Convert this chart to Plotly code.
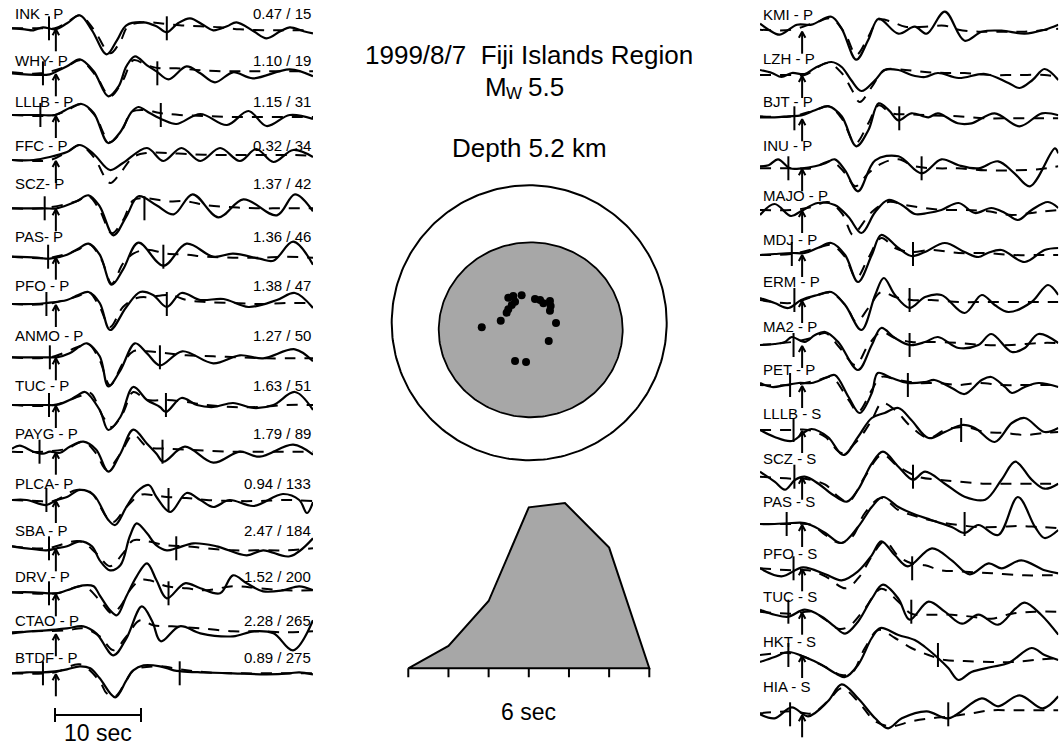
import numpy as np
import plotly.graph_objects as go

W, H = 1063, 747
FONT = "Liberation Sans, Arial, Helvetica, sans-serif"

# ------------------------------------------------------------------ data
left_labels = ["INK - P", "WHY- P", "LLLB - P", "FFC - P", "SCZ- P", "PAS- P", "PFO - P",
               "ANMO - P", "TUC - P", "PAYG - P", "PLCA- P", "SBA - P", "DRV - P",
               "CTAO - P", "BTDF - P"]
left_amp = [0.47, 1.10, 1.15, 0.32, 1.37, 1.36, 1.38, 1.27, 1.63, 1.79, 0.94, 2.47, 1.52, 2.28, 0.89]
left_az = [15, 19, 31, 34, 42, 46, 47, 50, 51, 89, 133, 184, 200, 265, 275]

right_labels = ["KMI - P", "LZH - P", "BJT - P", "INU - P", "MAJO - P", "MDJ - P", "ERM - P",
                "MA2 - P", "PET - P", "LLLB - S", "SCZ - S", "PAS - S", "PFO - S", "TUC - S",
                "HKT - S", "HIA - S"]
right_amp = [0.43, 0.30, 1.12, 0.90, 0.82, 1.31, 1.65, 0.97, 1.14, 0.23, 0.40, 0.43, 0.41, 0.50, 0.47, 0.23]
right_az = [296, 307, 315, 321, 323, 324, 329, 344, 345, 31, 42, 46, 47, 51, 59, 324]

# waveforms: time (s) and amplitude; o = observed (solid), s = synthetic (dashed)
ink_ot = [0, 1.5, 2.5, 3.6, 5, 6.4, 7.9, 9.3, 11, 12.2, 13.3, 15.3, 16.8, 18, 19.3, 20.7, 22.3, 23.4, 25, 26.1, 28.1, 29.6, 31.2, 32.3, 33.9, 35]
ink_oa = [0, -1, -2, 1, -1, 5, 13, -2, -26, -12, 3, 6, 2, -4, 5, 10, 3, -2, 2, 6, -3, -10, -3, 1, -3, -5]
ink_st = [0, 3.3, 5, 6.4, 7.9, 9.5, 11.4, 12.6, 13.5, 15.3, 17.2, 19.5, 21.9, 24.2, 26.5, 29.6, 32.3, 35]
ink_sa = [0, 0, 0, 6, 13, -1, -25, -13, 2, 6, 5, 3, 2, 1, -1, -2, -2, -2]

why_ot = [0, 4.4, 5.2, 6.4, 7.9, 9.5, 11.2, 12.4, 13.3, 14.3, 15.7, 16.8, 18.2, 20.3, 21.9, 23.6, 25.7, 28, 32.3, 35]
why_oa = [0, -1, 2, 7, 14, 2, -23, -13, 7, 17, 8, 2, -6, 7, 0, -9, 1, -5, 4, -3]
why_st = [0, 3.3, 6.4, 7.9, 9.8, 11.4, 12.9, 14.1, 15.7, 17.2, 19.1, 21.9, 25, 28, 31.2, 35]
why_sa = [1, 0, 7, 13, -3, -23, -7, 13, 8, 5, 5, 3, 2, 2, 2, 2]

lllb_ot = [0, 3.3, 5, 6.7, 8.1, 9.5, 11.2, 12.6, 13.9, 14.7, 16, 17.6, 19.1, 21.9, 25, 27.5, 29.6, 32.3, 35]
lllb_oa = [0, 0, 0, 7, 11, 2, -28, -17, 3, 8, 2, -5, -9, 1, -10, 4, -11, 0, -4]
lllb_st = [0, 5, 6.7, 8.1, 9.6, 11.4, 12.8, 13.9, 15.3, 17.2, 19.5, 22.6, 25.7, 28.8, 31.9, 35]
lllb_sa = [0, 0, 6, 11, 0, -27, -15, 3, 5, 2, 0, -1, -2, -2, -2, -2]

ffc_ot = [0, 2.5, 4.4, 6.4, 7.9, 9.5, 11.4, 12.9, 15.7, 17.6, 19.7, 21.9, 24.2, 26.5, 28.4, 30.4, 32.7, 35]
ffc_oa = [0, 0, 3, 8, 15, 6, -10, -3, 12, -1, 12, -1, 12, -1, 11, -2, 10, 3]
ffc_st = [0, 4.4, 6.4, 7.9, 9.5, 11.4, 12.6, 14.1, 15.7, 18, 20.3, 23.4, 26.5, 29.6, 32.7, 35]
ffc_sa = [0, 0, 8, 15, 3, -23, -13, 3, 7, 7, 6, 5, 5, 5, 5, 4]

scz_ot = [0, 3.8, 5.2, 7.5, 8.9, 10.2, 11.8, 13.3, 14.7, 16.8, 18.8, 21, 24, 26.9, 30.8, 32.9, 35]
scz_oa = [0, 0, 0, 7, 13, 2, -27, -8, 12, 3, -6, 14, -9, 9, -7, 14, -3]
scz_st = [0, 3.6, 7.5, 8.9, 10.2, 11.6, 12.9, 14.1, 15.7, 18, 20.3, 22.6, 25.7, 28.8, 31.9, 35]
scz_sa = [0, 0, 7, 12, -2, -25, -12, 8, 10, 7, 7, 3, 1, 0, 0, 0]

pas_ot = [0, 2.9, 4.4, 6.4, 7.7, 8.9, 10.2, 11.6, 12.9, 14.7, 17.6, 20.3, 23.4, 25.7, 28.8, 30.4, 32.7, 35]
pas_oa = [0, -1, -2, 2, 8, 13, 2, -28, -13, 14, -9, 13, 0, 3, -2, -4, 15, -8]
pas_st = [0, 4.4, 7.7, 8.9, 10.4, 11.6, 12.9, 14.1, 15.7, 18, 20.3, 22.6, 25.7, 28.8, 31.9, 35]
pas_sa = [0, -1, 7, 13, -3, -27, -7, 3, 7, 3, 2, 0, -1, -1, 0, -1]

pfo_ot = [0, 2.5, 4, 6.4, 7.7, 8.9, 10.2, 11.4, 13.3, 14.9, 16.4, 18, 19.7, 21.9, 24.6, 27.5, 30.8, 32.9, 35]
pfo_oa = [0, 0, 1, 4, 9, 12, 1, -26, -3, 12, 9, -3, 11, 4, 5, -3, 4, 11, -4]
pfo_st = [0, 4, 7.7, 8.9, 10.2, 11.4, 12.9, 14.5, 16, 18.4, 20.3, 22.6, 25.7, 28.8, 31.9, 35]
pfo_sa = [0, 0, 8, 12, -3, -23, -3, 6, 7, 9, 4, 2, 1, 0, 1, 1]

anmo_ot = [0, 4, 5.2, 6.7, 7.9, 8.7, 10.2, 11.2, 12.6, 14.3, 15.7, 17.2, 19.8, 23.4, 26.5, 29.2, 32.9, 35]
anmo_oa = [0, 0, 0, 4, 11, 14, 1, -29, -13, 14, 4, -8, 6, -6, 2, -1, 8, -4]
anmo_st = [0, 4.4, 7.9, 8.9, 10.2, 11.4, 12.9, 14.1, 15.7, 18, 20.3, 23.4, 26.5, 29.6, 32.7, 35]
anmo_sa = [0, 0, 11, 13, -3, -28, -6, 6, 6, 4, 2, 1, 0, -1, -1, -1]

tuc_ot = [0, 4, 5.2, 6.7, 7.7, 8.5, 10.2, 11.2, 12.6, 14.1, 15.7, 17.2, 17.9, 19.7, 21.5, 23.4, 25.7, 28.1, 30.4, 32.9, 35]
tuc_oa = [0, 0, 0, 5, 10, 13, -5, -25, -12, 18, 5, -2, -7, 7, 0, -2, 2, -3, 0, 13, -5]
tuc_st = [0, 4.8, 7.9, 9.1, 10.6, 11.6, 12.9, 14.1, 15.7, 18, 20.3, 22.6, 25.7, 28.8, 31.9, 35]
tuc_sa = [0, 0, 9, 12, -12, -22, -8, 13, 5, 5, 3, 0, -2, -2, 0, 0]

payg_ot = [0, 0.9, 2.5, 3.6, 4.4, 5.6, 6.7, 8.3, 9.8, 11.2, 12.6, 14.1, 15.7, 16.8, 17.6, 20.1, 23.4, 26.5, 28.8, 32.7, 35]
payg_oa = [3, 6, 0, -2, 0, -1, 5, 10, 2, -20, -2, 22, 8, -2, -10, 5, -11, 0, -5, 7, -3]
payg_st = [0, 3.6, 6.4, 8.3, 9.8, 11, 12.6, 14.1, 15.7, 18, 20.3, 22.6, 25.7, 28.8, 31.9, 35]
payg_sa = [0, 0, 3, 10, -2, -18, -2, 17, 5, 3, 2, 1, 0, 0, 0, 0]

plca_ot = [0, 1.7, 4, 5.2, 6.4, 7.9, 9.5, 11.2, 12, 13.3, 14.5, 15.9, 16.8, 18.4, 20.3, 21.9, 23.4, 25.3, 28.1, 31.5, 33.4, 34.3, 35]
plca_oa = [0, 0, -5, 0, 3, 10, 5, -20, -25, -7, 8, 15, 3, -12, 7, 0, -7, 0, -6, 6, 0, -13, -2]
plca_st = [0, 2.9, 4.8, 7.5, 9.1, 11, 11.8, 13.3, 14.9, 16.4, 18, 20.3, 22.6, 25.7, 28.8, 31.9, 35]
plca_sa = [0, -1, -1, 10, 8, -17, -22, -7, 5, 5, 3, 2, 0, -1, -1, 0, -1]

sba_ot = [0, 1.7, 4, 5.2, 6.4, 7.9, 9.3, 10.2, 11.4, 12.6, 13.7, 14.5, 15.7, 16.8, 18, 19.1, 21.1, 23.8, 27.3, 29.2, 32.3, 35]
sba_oa = [2, 0, -2, 0, 2, 7, 2, -12, -22, -17, 12, 25, 15, 3, -2, 0, 5, 2, -7, -2, -8, 10]
sba_st = [0, 4, 7.9, 9.8, 11.4, 12.9, 14.1, 15.7, 18, 20.3, 22.6, 25.7, 28.8, 31.9, 35]
sba_sa = [2, 0, 7, -5, -18, -5, 8, 7, 3, 2, 0, -2, -2, -2, 0]

drv_ot = [0, 2.5, 5.2, 6.4, 8.3, 9.5, 10.2, 11.4, 12.2, 13.3, 14.5, 15.7, 16.8, 18, 20.1, 21.9, 24.2, 25.7, 27.3, 29.2, 31.5, 33.4, 35]
drv_oa = [1, 1, 0, 3, 8, 7, -2, -17, -22, -3, 17, 30, 13, -5, 10, 5, 0, 18, 10, 2, 3, 7, 3]
drv_st = [0, 5.2, 8.3, 10.2, 11.6, 12.6, 13.7, 14.9, 16, 18, 20.3, 22.6, 25.7, 28.8, 31.9, 35]
drv_sa = [1, 0, 7, -7, -20, -13, 3, 13, 13, 7, 5, 3, 7, 5, 3, 3]

ctao_ot = [0, 2.1, 4, 6.4, 8.3, 9.8, 11.8, 13.3, 15.1, 16.3, 17.3, 19.5, 21.9, 25.7, 28.1, 30.4, 32.7, 35]
ctao_oa = [0, 2, 3, 5, 7, 0, -22, -5, 27, 12, -8, 7, 0, -3, 2, 0, -17, 13]
ctao_st = [0, 2.5, 6.4, 8.3, 10.2, 11.8, 13.3, 14.9, 16.4, 18.6, 21.9, 25.7, 28.8, 31.9, 35]
ctao_sa = [1, 2, 3, 5, -3, -17, -3, 13, 8, 7, 5, 2, 2, 1, 2]

btdf_ot = [0, 1.7, 3.6, 5, 6.4, 7.9, 9.1, 10.2, 12, 13.3, 14.1, 15.3, 17.2, 18.8, 19.7, 21.9, 25.7, 29.6, 32.3, 33.4, 35]
btdf_oa = [0, 1, 1, 2, 4, 7, 5, -5, -24, -7, 3, 8, 7, 3, 2, 1, 0, -1, 0, 1, -1]
btdf_st = [0, 5, 7.9, 10.2, 11, 12, 13.3, 14.1, 17.2, 19.5, 22.6, 26.5, 30.4, 35]
btdf_sa = [0, 1, 9, -8, -20, -23, -7, 3, 7, 4, 1, 0, 0, 0]

kmi_ot = [0, 1, 2.3, 4.3, 6, 8.3, 9.5, 11.2, 12.6, 13.8, 16.1, 18, 19.4, 21.5, 23.8, 25.8, 28.1, 30.8, 33.1, 34.7]
kmi_oa = [7, 1, -4, 6, 6, 14, 2, -29, -9, 12, -3, 4, -3, 19, -10, -1, 0, -3, 1, 6]
kmi_st = [0, 3.7, 6.4, 8.3, 9.9, 11.2, 12.6, 13.8, 15.3, 16.9, 19.2, 21.5, 23.1, 25.4, 28.1, 30.8, 34.7]
kmi_sa = [1, 1, 8, 12, -3, -24, -6, 11, 9, 4, 4, 5, 1, -1, -1, -1, 2]

lzh_ot = [0, 1.4, 2.5, 3.7, 5.2, 6.4, 8.3, 9.5, 10.6, 11.8, 13.4, 14.5, 16.1, 17.6, 19.2, 20.7, 23.1, 26.2, 28.9, 30.2, 31.7, 33.1, 34.7]
lzh_oa = [5, 2, -2, 2, 1, 7, 13, 8, -5, -16, -5, 5, 5, 0, -2, 2, -3, 1, -8, -13, -5, 6, -5]
lzh_st = [0, 3.7, 5.2, 7.9, 9.5, 10.7, 11.6, 13, 14.5, 16.9, 19.2, 21.5, 23.8, 26.9, 30, 33.1, 34.7]
lzh_sa = [0, 0, 0, 12, 2, -15, -27, -12, 5, 5, 3, 2, 2, 0, 0, 0, -2]

bjt_ot = [0, 1.7, 3.3, 4.8, 6.4, 8, 9.5, 11.2, 12.6, 13.8, 15, 16.1, 17.6, 19.6, 20.7, 23, 24.6, 27.3, 30.2, 32.8, 34.7]
bjt_oa = [1, 1, 2, 3, 8, 12, 2, -28, -12, 15, 8, -2, 5, 1, 5, -5, -5, 5, -8, 5, 3]
bjt_st = [0, 3.7, 6.4, 8, 9.5, 11.1, 12.6, 13.8, 15.3, 17.6, 19.9, 23, 26.2, 29.3, 32.4, 34.7]
bjt_sa = [2, 2, 8, 12, 0, -25, -5, 13, 5, 4, 3, 2, 0, 0, 0, 0]

inu_ot = [0, 1, 2.1, 3.5, 4.9, 6.4, 7.6, 8.7, 9.9, 11.4, 13.4, 16.1, 18.8, 21.1, 23.1, 25.4, 27.7, 29.6, 31.4, 34.3, 34.7]
inu_oa = [2, 3, 9, 0, 0, 2, 5, 9, -2, -23, 8, 12, -5, 9, 3, 0, 7, -5, -18, 20, 15]
inu_st = [0, 3.7, 6, 8.3, 9.9, 11.1, 12.6, 14.2, 16.1, 18, 20.7, 23, 26.2, 29.3, 32.4, 34.7]
inu_sa = [0, 0, 0, 7, -5, -18, -5, 5, 9, 2, 0, 0, -2, -2, -1, 2]

majo_ot = [0, 1.7, 3.6, 4.8, 6.7, 8.7, 10.3, 11.8, 13.4, 14.9, 16.5, 18, 19.5, 21.1, 23.1, 25, 26.9, 28.5, 30, 31.6, 33.5, 34.7]
majo_oa = [-5, 6, -6, -1, 7, 5, -7, -23, -2, 10, 5, -4, -3, 0, 7, -3, 2, -3, -10, 0, 8, 2]
majo_st = [0, 3.7, 6, 7.9, 9.5, 10.8, 11.4, 13, 14.9, 16.9, 19.2, 21.5, 23.8, 26.2, 29.3, 32.4, 34.7]
majo_sa = [0, 0, 3, 8, -3, -25, -20, -2, 8, 5, 2, 0, 0, -1, -5, -2, 0]

mdj_ot = [0, 1.7, 3.7, 5.2, 6.7, 8.3, 9.9, 11.4, 13, 14.1, 16.1, 17.6, 19.2, 21.5, 23.8, 25.4, 26.5, 28.1, 30.8, 33.1, 34.7]
mdj_oa = [-1, 0, 1, 1, 6, 11, -1, -28, -1, 19, 6, -2, 2, 11, 2, -3, 1, 4, -8, 4, 6]
mdj_st = [0, 3.7, 6.7, 8.3, 9.9, 11.2, 12.6, 14.1, 15.7, 17.6, 20, 23.1, 26.2, 29.3, 32.4, 34.7]
mdj_sa = [-1, 0, 6, 9, -3, -24, -4, 16, 6, 2, 4, 1, 1, -1, -1, -1]

erm_ot = [0, 1.7, 3.3, 4.8, 6.7, 8.3, 9.9, 11.8, 13.4, 14.4, 15.7, 17.4, 19.2, 21.1, 23.8, 25.8, 27.3, 28.9, 31.6, 33.5, 34.7]
erm_oa = [2, -3, -8, 0, 5, 8, -5, -30, 5, 22, 5, -8, 3, 5, -13, 5, -5, -12, -2, 15, 5]
erm_st = [0, 3.7, 6.7, 8.3, 10.1, 11.2, 12.6, 14.1, 15.7, 17.6, 19.9, 23.1, 26.2, 29.3, 32.4, 34.7]
erm_sa = [0, -3, 5, 7, -7, -22, -8, 8, 3, 0, 0, -2, -2, -2, -2, -2]

ma2_ot = [0, 1.7, 2.9, 3.7, 5.2, 6.4, 7.6, 9.1, 11.4, 13, 14.1, 15.7, 17.4, 19.2, 20.7, 23.1, 25.4, 26.9, 29.3, 30.8, 32.4, 34.7]
ma2_oa = [0, 1, 3, 8, 3, 10, 13, 3, -25, 0, 17, 7, 0, 3, 8, -3, 0, 11, -7, -3, 11, 2]
ma2_st = [0, 3.7, 6, 7.6, 9.3, 11.1, 12.6, 14.1, 15.7, 17.6, 19.9, 23.1, 26.2, 29.3, 32.4, 34.7]
ma2_sa = [0, 3, 7, 12, -3, -20, 0, 13, 7, 3, 3, 2, 0, 0, 2, 2]

pet_ot = [0, 1.4, 3, 4.5, 6, 7.6, 8.7, 10.3, 11.6, 13, 13.7, 15.3, 17.2, 19.2, 20.3, 22.3, 23.8, 25.8, 26.9, 28.5, 29.3, 30.8, 32.4, 34.7]
pet_oa = [2, -2, 0, 2, 2, 7, 10, -12, -28, -8, 12, 7, 2, 3, 5, -3, -9, 5, 8, -2, -8, -2, 2, -2]
pet_st = [0, 3.7, 6.8, 8.3, 10.3, 11.4, 13, 14.1, 16.1, 18.4, 20.7, 23.1, 25.4, 28.1, 30.8, 34.7]
pet_sa = [0, 0, 5, 8, -15, -27, -5, 8, 5, 2, 2, 0, 2, 0, 0, 0]

lllbs_ot = [0, 1.7, 3.7, 5.2, 6, 7.9, 9.7, 11.4, 13, 14.5, 16.1, 17.6, 19.6, 21.5, 23.5, 25, 27.3, 29.3, 30.8, 33.1, 34.7]
lllbs_oa = [0, -7, -11, -2, 1, -7, -25, -7, 12, 17, 22, 10, -8, -2, 5, 2, -12, 7, 12, -2, 2]
lllbs_st = [0, 3.7, 5.6, 7.6, 9.5, 11.4, 13, 14.2, 15.7, 17.6, 19.6, 21.5, 23.8, 26.2, 28.5, 30.8, 33.1, 34.7]
lllbs_sa = [0, 0, 0, -7, -23, -10, 10, 27, 20, 3, -8, 0, 3, -2, -3, -5, -3, -2]

sczs_ot = [0, 1.7, 2.9, 4.1, 5.2, 6.8, 8.3, 10.1, 11.4, 13, 14.3, 16.1, 17.8, 19.2, 21.5, 23.8, 26.2, 28.1, 29.7, 31.6, 33.1, 34.7]
sczs_oa = [5, -5, -13, -3, 0, -7, -17, -25, -13, 13, 25, 10, -3, 5, -7, -20, -23, -3, 15, -3, -12, -7]
sczs_st = [0, 3.7, 5.2, 7.6, 9.1, 10.3, 12.2, 14.2, 16.1, 18.4, 20.7, 23.1, 26.2, 29.3, 32.4, 34.7]
sczs_sa = [0, -2, -2, -8, -20, -25, 0, 22, 10, 0, -3, -5, -7, -7, -7, -7]

pass_ot = [0, 1.7, 3.7, 5.2, 6.4, 7.6, 9.5, 11.4, 13, 14.3, 16.1, 17.6, 19.9, 22.3, 23.8, 25.4, 27.7, 30, 32, 33.1, 34.7]
pass_oa = [0, 0, 1, 1, -3, -9, -19, -3, 17, 27, 17, 11, 4, -3, -9, -1, -11, 27, -3, -14, -6]
pass_st = [0, 3.7, 6, 7.6, 9.3, 10.7, 12.2, 14.1, 16.1, 18.4, 20.7, 23.1, 25.4, 27.7, 30, 32.4, 34.7]
pass_sa = [0, 0, -1, -11, -19, -13, 11, 26, 14, 7, 2, -1, -3, -3, -2, -3, -4]

pfos_ot = [0, 2.5, 5, 7.6, 9.5, 11.4, 13, 14.1, 15.7, 17.2, 20, 22.3, 24.4, 26.6, 28.1, 30.4, 33.1, 34.7]
pfos_oa = [0, -8, 1, -6, -12, -3, 13, 27, 13, 2, 20, 8, -6, 5, 0, 8, -2, -5]
pfos_st = [0, 3.7, 5.6, 7.6, 10, 11.6, 13, 14.5, 16.1, 17.6, 19.2, 21.1, 23.1, 27, 30.8, 33.1, 34.7]
pfos_sa = [0, -2, -2, -8, -20, -8, 12, 27, 12, 5, 3, -2, -3, -5, -7, -7, -7]

tucs_ot = [0, 1.7, 3.3, 5.2, 7.2, 8.7, 9.9, 11.4, 13, 14.3, 16.1, 17.4, 19.6, 21.5, 23.5, 25.4, 27.7, 29.7, 30.8, 32.7, 34.7]
tucs_oa = [2, -3, -5, 2, -5, -15, -22, -10, 13, 27, 13, -8, 10, 0, -12, -3, -13, 3, 9, -3, -23]
tucs_st = [0, 3.7, 6, 7.6, 9.1, 10.3, 12.2, 14.1, 16.1, 17.6, 19.9, 22.3, 24.6, 26.9, 29.3, 32, 34.7]
tucs_sa = [0, -2, 0, -8, -17, -15, 3, 23, 10, -2, -3, -3, -5, -7, -2, 0, 0]

hkts_ot = [0, 1.7, 3.3, 5.2, 7.2, 8.7, 9.9, 11.4, 13, 14, 16.1, 18, 19.2, 20.7, 21.9, 23.1, 24.6, 26.9, 28.9, 31.6, 33.1, 34.7]
hkts_oa = [-7, -2, 3, -2, -10, -18, -22, -10, 17, 27, 20, 15, 8, -3, -13, -25, -17, -12, -8, 7, 0, -5]
hkts_st = [0, 3.3, 5.2, 7.6, 9.5, 10.7, 12.2, 13.8, 15.7, 17.6, 19.6, 21.5, 23.8, 26.9, 29.3, 32, 34.7]
hkts_sa = [0, 2, -2, -12, -20, -18, 7, 25, 17, 7, 0, -5, -6, -7, -7, -5, -3]

hias_ot = [0, 1.7, 3.7, 5.6, 7.9, 9.5, 11.4, 13.4, 14.9, 16.5, 19.4, 21.9, 25.8, 27.7, 30.2, 32.9, 34.7]
hias_oa = [0, -4, 7, -2, 13, 30, 16, -4, -14, -4, 3, -4, 16, 8, 19, 6, 18]
hias_st = [0, 3.7, 6, 7.9, 9.5, 11.4, 13.4, 15.3, 17.6, 19.9, 22.3, 24.6, 26.9, 29.3, 31.6, 34.7]
hias_sa = [1, 3, 1, 13, 26, 13, -7, -12, -7, -4, -2, 1, 4, 4, 4, 4]

# time windows (s) and first-arrival picks (s)
left_win_start = [4.3, 3.6, 3.3, None, 3.8, 4.2, 4.0, 4.4, 4.3, 3.2, 4.0, 4.3, 4.3, None, 3.6]
left_win_end = [18.0, 16.9, 17.3, None, 15.4, 17.6, 18.0, 17.2, 17.9, 17.5, 18.2, 19.1, 18.2, None, 19.5]
right_win_start = [None, None, 4.0, 3.3, None, 3.7, 4.0, 3.9, 3.5, 3.9, 4.0, 3.1, 3.9, 3.3, 3.3, 3.5]
right_win_end = [None, None, 16.2, 18.8, None, 17.8, 17.4, 17.4, 17.2, 23.4, 17.8, 23.8, 17.7, 17.6, 20.7, 21.9]
left_pick = 5.1
right_pick = 4.9

# focal sphere station points (unit-radius sphere coordinates)
fm_x = [-0.345, -0.207, -0.164, -0.152, -0.127, -0.103, -0.152, -0.116, -0.055, 0.042,
        0.079, 0.103, 0.151, 0.156, 0.151, 0.195, 0.142, -0.103, -0.023]
fm_y = [-0.033, 0.015, 0.073, 0.098, 0.129, 0.153, 0.183, 0.195, 0.200, 0.173,
        0.166, 0.142, 0.159, 0.122, 0.088, -0.001, -0.132, -0.278, -0.285]

# source time function
stf_t = [0, 1, 2, 3, 3.9, 5, 6]
stf_a = [0, 0.135, 0.407, 0.974, 1.0, 0.73, 0]
stf_ticks = [0, 1, 2, 3, 4, 5, 6]

# ------------------------------------------------------------------ layout constants
left_base = [28.3, 73.3, 115, 160, 208.3, 256.7, 304, 357.3, 405, 451.7, 500, 548.3, 593.3, 633.3, 673.3]
left_label_y = [13.8, 60, 101.7, 145, 183.7, 236.7, 285.7, 335, 385, 433.3, 483.3, 530, 576.7, 620, 657.8]
right_base = [30.7, 75, 118.3, 168.3, 210, 254, 300, 345, 385, 430, 476.7, 524, 568.3, 611.7, 655, 714.3]
right_label_y = [14.7, 58.7, 101.7, 145, 195, 239.3, 281.7, 326.7, 369, 413.3, 458.3, 501.3, 553.3, 596.7, 641.5, 686.7]

left_waves = [(ink_ot, ink_oa, ink_st, ink_sa), (why_ot, why_oa, why_st, why_sa),
              (lllb_ot, lllb_oa, lllb_st, lllb_sa), (ffc_ot, ffc_oa, ffc_st, ffc_sa),
              (scz_ot, scz_oa, scz_st, scz_sa), (pas_ot, pas_oa, pas_st, pas_sa),
              (pfo_ot, pfo_oa, pfo_st, pfo_sa), (anmo_ot, anmo_oa, anmo_st, anmo_sa),
              (tuc_ot, tuc_oa, tuc_st, tuc_sa), (payg_ot, payg_oa, payg_st, payg_sa),
              (plca_ot, plca_oa, plca_st, plca_sa), (sba_ot, sba_oa, sba_st, sba_sa),
              (drv_ot, drv_oa, drv_st, drv_sa), (ctao_ot, ctao_oa, ctao_st, ctao_sa),
              (btdf_ot, btdf_oa, btdf_st, btdf_sa)]
right_waves = [(kmi_ot, kmi_oa, kmi_st, kmi_sa), (lzh_ot, lzh_oa, lzh_st, lzh_sa),
               (bjt_ot, bjt_oa, bjt_st, bjt_sa), (inu_ot, inu_oa, inu_st, inu_sa),
               (majo_ot, majo_oa, majo_st, majo_sa), (mdj_ot, mdj_oa, mdj_st, mdj_sa),
               (erm_ot, erm_oa, erm_st, erm_sa), (ma2_ot, ma2_oa, ma2_st, ma2_sa),
               (pet_ot, pet_oa, pet_st, pet_sa), (lllbs_ot, lllbs_oa, lllbs_st, lllbs_sa),
               (sczs_ot, sczs_oa, sczs_st, sczs_sa), (pass_ot, pass_oa, pass_st, pass_sa),
               (pfos_ot, pfos_oa, pfos_st, pfos_sa), (tucs_ot, tucs_oa, tucs_st, tucs_sa),
               (hkts_ot, hkts_oa, hkts_st, hkts_sa), (hias_ot, hias_oa, hias_st, hias_sa)]

fig = go.Figure()
annotations = []
LBL = 15
BLACK = "#000000"


def add_column(xa, waves, bases, label_y, labels, amps, azs, wstart, wend, pick, num_x):
    for (ot, oa, st, sa), b in zip(waves, bases):
        fig.add_trace(go.Scatter(x=st, y=[b - v for v in sa], xaxis=xa, yaxis="y", mode="lines",
                                 line=dict(color=BLACK, width=2, dash="11px,9px", shape="spline", smoothing=1.0),
                                 hoverinfo="skip", showlegend=False))
        fig.add_trace(go.Scatter(x=ot, y=[b - v for v in oa], xaxis=xa, yaxis="y", mode="lines",
                                 line=dict(color=BLACK, width=2.2, shape="spline", smoothing=1.0),
                                 hoverinfo="skip", showlegend=False))
    # window ticks
    tx, ty = [], []
    for s, e, b in zip(wstart, wend, bases):
        for t in (s, e):
            if t is not None:
                tx += [t, t, None]
                ty += [b - 12, b + 12, None]
    fig.add_trace(go.Scatter(x=tx, y=ty, xaxis=xa, yaxis="y", mode="lines",
                             line=dict(color=BLACK, width=2), hoverinfo="skip", showlegend=False))
    # arrival arrows
    axx, axy = [], []
    for b in bases:
        axx += [pick, pick, None, pick - 0.38, pick, pick + 0.38, None]
        axy += [b + 23, b + 1, None, b + 7, b + 1, b + 7, None]
    fig.add_trace(go.Scatter(x=axx, y=axy, xaxis=xa, yaxis="y", mode="lines",
                             line=dict(color=BLACK, width=2), hoverinfo="skip", showlegend=False))
    for lab, amp, az, ly in zip(labels, amps, azs, label_y):
        annotations.append(dict(x=0.1, y=ly, xref=xa, yref="y", text=lab, showarrow=False,
                                xanchor="left", yanchor="middle",
                                font=dict(family=FONT, size=LBL, color=BLACK)))
        annotations.append(dict(x=num_x, y=ly, xref=xa, yref="y", text=f"{amp:.2f} / {az}",
                                showarrow=False, xanchor="right", yanchor="middle",
                                font=dict(family=FONT, size=LBL, color=BLACK)))


add_column("x", left_waves, left_base, left_label_y, left_labels, left_amp, left_az,
           left_win_start, left_win_end, left_pick, 35.0)
add_column("x2", right_waves, right_base, right_label_y, right_labels, right_amp, right_az,
           right_win_start, right_win_end, right_pick, 35.0)

# 10 sec scale bar
sb_t = [5, 15]
fig.add_trace(go.Scatter(x=[sb_t[0], sb_t[1], None, sb_t[0], sb_t[0], None, sb_t[1], sb_t[1]],
                         y=[715, 715, None, 708, 722, None, 708, 722],
                         xaxis="x", yaxis="y", mode="lines", line=dict(color=BLACK, width=2),
                         hoverinfo="skip", showlegend=False))
annotations.append(dict(x=(sb_t[0] + sb_t[1]) / 2, y=733, xref="x", yref="y", text="10 sec",
                        showarrow=False, xanchor="center", yanchor="middle",
                        font=dict(family=FONT, size=23, color=BLACK)))

# focal sphere
th = np.linspace(0, 2 * np.pi, 241)
fig.add_trace(go.Scatter(x=0.011 + 0.669 * np.cos(th), y=-0.051 + 0.636 * np.sin(th),
                         xaxis="x3", yaxis="y3", mode="lines", fill="toself", fillcolor="#a7a7a7",
                         line=dict(color=BLACK, width=1.8), hoverinfo="skip", showlegend=False))
fig.add_trace(go.Scatter(x=np.cos(th), y=np.sin(th), xaxis="x3", yaxis="y3", mode="lines",
                         line=dict(color=BLACK, width=2), hoverinfo="skip", showlegend=False))
fig.add_trace(go.Scatter(x=fm_x, y=fm_y, xaxis="x3", yaxis="y3", mode="markers",
                         marker=dict(color=BLACK, size=8), hoverinfo="skip", showlegend=False))

# source time function
fig.add_trace(go.Scatter(x=stf_t + [stf_t[0]], y=stf_a + [stf_a[0]], xaxis="x4", yaxis="y4",
                         mode="lines", fill="toself", fillcolor="#a7a7a7",
                         line=dict(color=BLACK, width=2), hoverinfo="skip", showlegend=False))
kx, ky = [], []
for t in stf_ticks:
    kx += [t, t, None]
    ky += [0, -0.055, None]
fig.add_trace(go.Scatter(x=kx, y=ky, xaxis="x4", yaxis="y4", mode="lines",
                         line=dict(color=BLACK, width=2), hoverinfo="skip", showlegend=False))
annotations.append(dict(x=3, y=1 - 712 / H, xref="x4", yref="paper", text="6 sec", showarrow=False,
                        xanchor="center", yanchor="middle", font=dict(family=FONT, size=23, color=BLACK)))

# titles
cx = 529 / W
TFS = 26
annotations.append(dict(x=cx, y=1 - 55 / H, xref="paper", yref="paper",
                        text="1999/8/7\u00a0\u00a0Fiji Islands Region", showarrow=False,
                        xanchor="center", yanchor="middle", font=dict(family=FONT, size=TFS, color=BLACK)))
# magnitude line: "M" + subscript "W" + " 5.5"
annotations.append(dict(x=508 / W, y=1 - 87 / H, xref="paper", yref="paper", text="M",
                        showarrow=False, xanchor="right", yanchor="middle", borderpad=0,
                        font=dict(family=FONT, size=TFS, color=BLACK)))
annotations.append(dict(x=505 / W, y=1 - 93 / H, xref="paper", yref="paper", text="W",
                        showarrow=False, xanchor="left", yanchor="middle", borderpad=0,
                        font=dict(family=FONT, size=17, color=BLACK)))
annotations.append(dict(x=527 / W, y=1 - 87 / H, xref="paper", yref="paper", text="5.5",
                        showarrow=False, xanchor="left", yanchor="middle", borderpad=0,
                        font=dict(family=FONT, size=TFS, color=BLACK)))
annotations.append(dict(x=cx, y=1 - 148 / H, xref="paper", yref="paper",
                        text="Depth 5.2 km", showarrow=False,
                        xanchor="center", yanchor="middle", font=dict(family=FONT, size=TFS, color=BLACK)))

hidden = dict(visible=False, showgrid=False, zeroline=False, fixedrange=True)
fig.update_layout(
    width=W, height=H, autosize=False,
    margin=dict(l=0, r=0, t=0, b=0, pad=0),
    paper_bgcolor="white", plot_bgcolor="rgba(0,0,0,0)",
    showlegend=False,
    xaxis=dict(domain=[12 / W, 313 / W], range=[0, 35], anchor="y", **hidden),
    xaxis2=dict(domain=[760 / W, 1058.3 / W], range=[0, 34.7], anchor="y", **hidden),
    yaxis=dict(domain=[0, 1], range=[H, 0], anchor="x", **hidden),
    xaxis3=dict(domain=[(529.2 - 151.25) / W, (529.2 + 151.25) / W], range=[-1.1, 1.1], anchor="y3", **hidden),
    yaxis3=dict(domain=[1 - (322.8 + 151.25) / H, 1 - (322.8 - 151.25) / H], range=[-1.1, 1.1], anchor="x3", **hidden),
    xaxis4=dict(domain=[(408.3 - 8.03) / W, (649.3 + 8.03) / W], range=[-0.2, 6.2], anchor="y4", **hidden),
    yaxis4=dict(domain=[1 - 684.8 / H, 1 - 486.5 / H], range=[-0.1, 1.1], anchor="x4", **hidden),
    annotations=annotations,
)

fig.write_html("out.html")
